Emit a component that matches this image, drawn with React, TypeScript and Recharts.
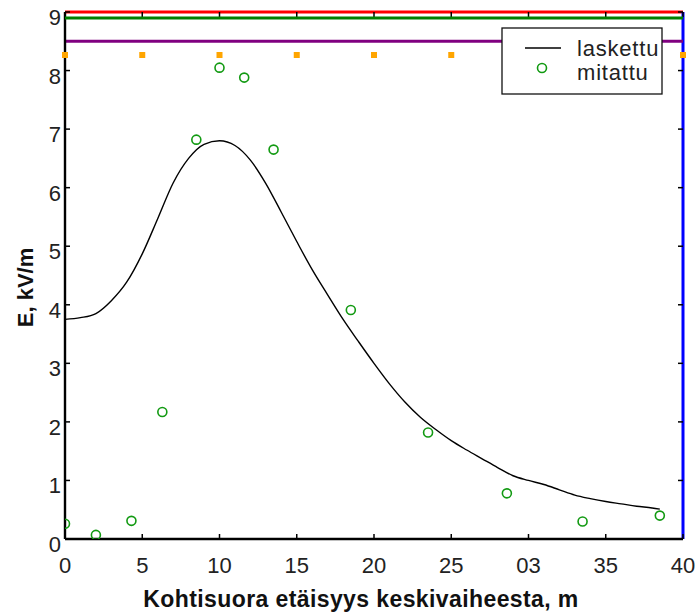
import React from 'react';
import { ComposedChart, Scatter, XAxis, YAxis, ReferenceLine } from 'recharts';

const curveX = [0, 1, 2, 3, 4, 5, 6, 7, 8, 9, 10, 11, 12, 13, 14, 15, 16, 17, 18, 19, 20,
  21, 22, 23, 24, 25, 26, 27, 28, 29, 30, 31, 32, 33, 34, 35, 36, 37, 38, 38.5];
const curveE = [3.75, 3.78, 3.85, 4.07, 4.39, 4.87, 5.47, 6.08, 6.5, 6.74, 6.8, 6.72, 6.47,
  6.07, 5.58, 5.08, 4.6, 4.17, 3.75, 3.37, 3.0, 2.65, 2.34, 2.08, 1.87, 1.68, 1.52, 1.37,
  1.22, 1.08, 1.0, 0.93, 0.84, 0.75, 0.69, 0.64, 0.6, 0.56, 0.53, 0.51];

const measuredX = [0, 2, 4.3, 6.3, 8.5, 10, 11.6, 13.5, 18.5, 23.5, 28.6, 33.5, 38.5];
const measuredE = [0.26, 0.07, 0.31, 2.17, 6.82, 8.05, 7.88, 6.65, 3.91, 1.82, 0.78, 0.3, 0.4];

const xTicks = [0, 5, 10, 15, 20, 25, 30, 35, 40];
const xTickLabels = ['0', '5', '10', '15', '20', '25', '03', '35', '40'];
const yTicks = [0, 1, 2, 3, 4, 5, 6, 7, 8, 9];

const xTitle = 'Kohtisuora etäisyys keskivaiheesta, m';
const yTitle = 'E, kV/m';
const seriesNames = ['laskettu', 'mitattu'];

const GREEN = '#129a12';
const FONT = '"Liberation Sans", Arial, sans-serif';

const W = 696;
const H = 614;
const MARGIN = { top: 12, right: 13, left: 0, bottom: 0 };
const Y_AXIS_W = 65;
const X_AXIS_H = 75;
const PLOT_W = W - MARGIN.left - MARGIN.right - Y_AXIS_W;
const PLOT_H = H - MARGIN.top - MARGIN.bottom - X_AXIS_H;

const curveData = curveX.map((x, i) => ({ x, e: curveE[i] }));
const measuredData = measuredX.map((x, i) => ({ x, e: measuredE[i] }));

const BottomTick = ({ x, y, payload }: any) => {
  const idx = xTicks.indexOf(payload.value);
  const top = y - PLOT_H;
  return (
    <g>
      <line x1={x} y1={y} x2={x} y2={y - 5} stroke="#000" strokeWidth={1.5} />
      <line x1={x} y1={top} x2={x} y2={top + 5} stroke="#000" strokeWidth={1.5} />
      <rect x={x - 3} y={top + 40} width={6} height={6} fill="orange" />
      <text x={x} y={y + 34} textAnchor="middle" fontSize={22} fill="#222">
        {xTickLabels[idx]}
      </text>
    </g>
  );
};

const LeftTick = ({ x, y, payload }: any) => {
  const right = x + PLOT_W;
  return (
    <g>
      <line x1={x} y1={y} x2={x + 5} y2={y} stroke="#000" strokeWidth={1.5} />
      <line x1={right} y1={y} x2={right - 5} y2={y} stroke="#000" strokeWidth={1.5} />
      {payload.value === 9 && (
        <line x1={x} y1={y + 6} x2={right} y2={y + 6} stroke="green" strokeWidth={3} />
      )}
      <text x={x - 4} y={y + 13} textAnchor="end" fontSize={22} fill="#222">
        {payload.value}
      </text>
    </g>
  );
};

const Ring = ({ cx, cy }: any) => (
  <circle cx={cx} cy={cy} r={4.5} fill="none" stroke={GREEN} strokeWidth={1.6} />
);

const LegendBox = () => (
  <svg width={162} height={68} style={{ display: 'block', fontFamily: FONT }}>
    <rect x={1} y={1} width={160} height={66} fill="#fff" stroke="#111" strokeWidth={1.3} />
    <line x1={24} y1={21} x2={60} y2={21} stroke="#000" strokeWidth={1.4} />
    <circle cx={41} cy={41} r={4.5} fill="none" stroke={GREEN} strokeWidth={1.6} />
    <text x={76} y={29} fontSize={22} letterSpacing={0.8} fill="#222">{seriesNames[0]}</text>
    <text x={76} y={53} fontSize={22} letterSpacing={0.8} fill="#222">{seriesNames[1]}</text>
  </svg>
);

export default function App() {
  return (
    <div style={{ position: 'absolute', left: 0, top: 0, width: W, height: H, background: '#fff', fontFamily: FONT }}>
      <ComposedChart width={W} height={H} margin={MARGIN}>
        <XAxis
          dataKey="x"
          type="number"
          domain={[0, 40]}
          ticks={xTicks}
          interval={0}
          allowDataOverflow
          height={X_AXIS_H}
          tickSize={0}
          tickMargin={0}
          tick={<BottomTick />}
          axisLine={{ stroke: '#000', strokeWidth: 2.4 }}
          label={(props: any) => {
            const vb = props.viewBox;
            return (
              <text x={vb.x + vb.width / 2 - 13} y={vb.y + 68} textAnchor="middle" fontSize={23} letterSpacing={0.4} fontWeight="bold" fill="#111">
                {xTitle}
              </text>
            );
          }}
        />
        <YAxis
          dataKey="e"
          type="number"
          domain={[0, 9]}
          ticks={yTicks}
          interval={0}
          allowDataOverflow
          width={Y_AXIS_W}
          tickSize={0}
          tickMargin={0}
          tick={<LeftTick />}
          axisLine={{ stroke: '#000', strokeWidth: 2.4 }}
          label={(props: any) => {
            const vb = props.viewBox;
            return (
              <text transform={`translate(33, ${vb.y + vb.height / 2 + 12}) rotate(-90)`} textAnchor="middle" fontSize={22} fontWeight="bold" fill="#111">
                {yTitle}
              </text>
            );
          }}
        />
        <ReferenceLine y={9} stroke="red" strokeWidth={3} ifOverflow="visible" />
        <ReferenceLine x={40} stroke="blue" strokeWidth={3} ifOverflow="visible" />
        <ReferenceLine y={8.5} stroke="purple" strokeWidth={3} />
        <Scatter
          name={seriesNames[0]}
          data={curveData}
          line={{ stroke: '#000', strokeWidth: 1.4 }}
          lineType="joint"
          lineJointType="monotoneX"
          shape={() => <g />}
          isAnimationActive={false}
        />
        <Scatter
          name={seriesNames[1]}
          data={measuredData}
          shape={<Ring />}
          isAnimationActive={false}
        />
      </ComposedChart>
      <div style={{ position: 'absolute', left: 501, top: 27 }}>
        <LegendBox />
      </div>
    </div>
  );
}
